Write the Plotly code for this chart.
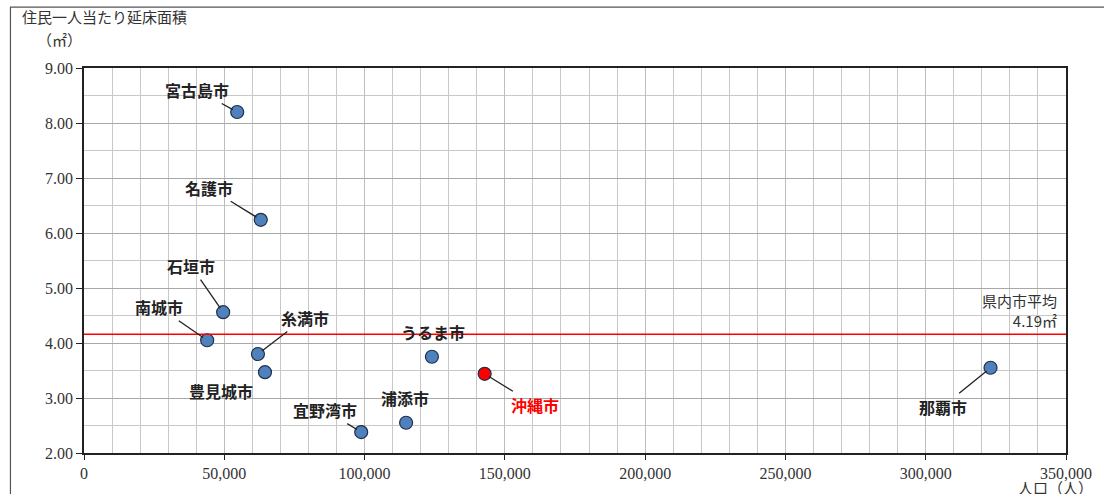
import plotly.graph_objects as go

cities = ["宮古島市", "名護市", "石垣市", "南城市", "糸満市", "豊見城市",
          "宜野湾市", "浦添市", "うるま市", "沖縄市", "那覇市"]
population = [54600, 63000, 49600, 43900, 62000, 64500,
              98800, 114800, 124000, 142800, 323100]
floor_area = [8.20, 6.24, 4.56, 4.05, 3.80, 3.47,
              2.38, 2.55, 3.75, 3.44, 3.55]
prefecture_avg_line = 4.16
avg_label = "県内市平均<br>4.19㎡"
highlight = "沖縄市"

# label offsets (pixels) relative to point: (ax, ay, leader line?)
label_offsets = {
    "宮古島市": (-40, -22, True),
    "名護市": (-52, -32, True),
    "石垣市": (-32, -46, True),
    "南城市": (-48, -33, True),
    "糸満市": (47, -36, True),
    "豊見城市": (-44, 19, False),
    "宜野湾市": (-36, -22, True),
    "浦添市": (-1, -25, False),
    "うるま市": (1, -25, False),
    "沖縄市": (50, 31, True),
    "那覇市": (-48, 39, True),
}

JP = "Noto Sans CJK JP"
NUM = "Liberation Serif"

colors = ["#ff0000" if c == highlight else "#4f81bd" for c in cities]

fig = go.Figure()
fig.add_trace(go.Scatter(
    x=population, y=floor_area, mode="markers",
    marker=dict(size=13, color=colors, line=dict(color="#1f2f4a", width=1.2)),
    hoverinfo="text", text=cities, showlegend=False,
))

for c, xv, yv in zip(cities, population, floor_area):
    ax, ay, line = label_offsets[c]
    col = "#ff0000" if c == highlight else "#222222"
    if line:
        fig.add_annotation(x=xv, y=yv, text=c, showarrow=True, ax=ax, ay=ay,
                           arrowhead=0, arrowwidth=1.3, arrowcolor="#222222",
                           standoff=5,
                           font=dict(family=JP, size=16, color=col, weight="bold"))
    else:
        fig.add_annotation(x=xv, y=yv, text=c, showarrow=False,
                           xshift=ax, yshift=-ay,
                           font=dict(family=JP, size=16, color=col, weight="bold"))

fig.add_shape(type="line", xref="x domain", yref="y", x0=0, x1=1,
              y0=prefecture_avg_line, y1=prefecture_avg_line,
              line=dict(color="#ff0000", width=1.5))

fig.add_annotation(xref="x domain", yref="y", x=0.993, y=4.6, text=avg_label,
                   showarrow=False, xanchor="right", align="right",
                   font=dict(family=JP, size=15, color="#333333"))

# axis titles
fig.add_annotation(xref="paper", yref="paper", x=-0.065, y=1.135,
                   text="住民一人当たり延床面積", showarrow=False,
                   xanchor="left", yanchor="middle",
                   font=dict(family=JP, size=15, color="#333333"))
fig.add_annotation(xref="paper", yref="paper", x=-0.05, y=1.075,
                   text="（㎡）", showarrow=False,
                   xanchor="left", yanchor="middle",
                   font=dict(family=JP, size=15, color="#333333"))
fig.add_annotation(xref="paper", yref="paper", x=1.03, y=-0.09,
                   text="人口（人）", showarrow=False,
                   xanchor="right", yanchor="middle",
                   font=dict(family=JP, size=15, color="#333333"))

# outer frame
fig.add_shape(type="rect", xref="paper", yref="paper",
              x0=-0.0749, x1=1.04, y0=-0.2, y1=1.158,
              line=dict(color="#555555", width=1.2), layer="below")

fig.update_xaxes(range=[0, 350000], dtick=50000, tickformat=",d",
                 showgrid=True, gridcolor="#bdbdbd", gridwidth=1,
                 minor=dict(dtick=10000, showgrid=True, gridcolor="#c8c8c8",
                            gridwidth=1),
                 ticks="outside", ticklen=5, tickcolor="#222",
                 showline=True, linecolor="#222", linewidth=1.5, mirror=True,
                 zeroline=False,
                 tickfont=dict(family=NUM, size=16, color="#333"))
fig.update_yaxes(range=[2, 9], dtick=1, tickformat=".2f",
                 showgrid=True, gridcolor="#a8a8a8", gridwidth=1,
                 minor=dict(dtick=0.5, showgrid=True, gridcolor="#c8c8c8",
                            gridwidth=1),
                 ticks="outside", ticklen=6, tickcolor="#222",
                 showline=True, linecolor="#222", linewidth=1.5, mirror=True,
                 zeroline=False,
                 tickfont=dict(family=NUM, size=16, color="#333"))

fig.update_layout(width=1104, height=494,
                  margin=dict(l=84, r=29, t=68, b=41),
                  paper_bgcolor="white", plot_bgcolor="white",
                  showlegend=False)

fig.write_html("out.html", config={"displayModeBar": False},
               post_script="document.body.style.margin='0';"
                           "document.body.style.overflow='hidden';")
